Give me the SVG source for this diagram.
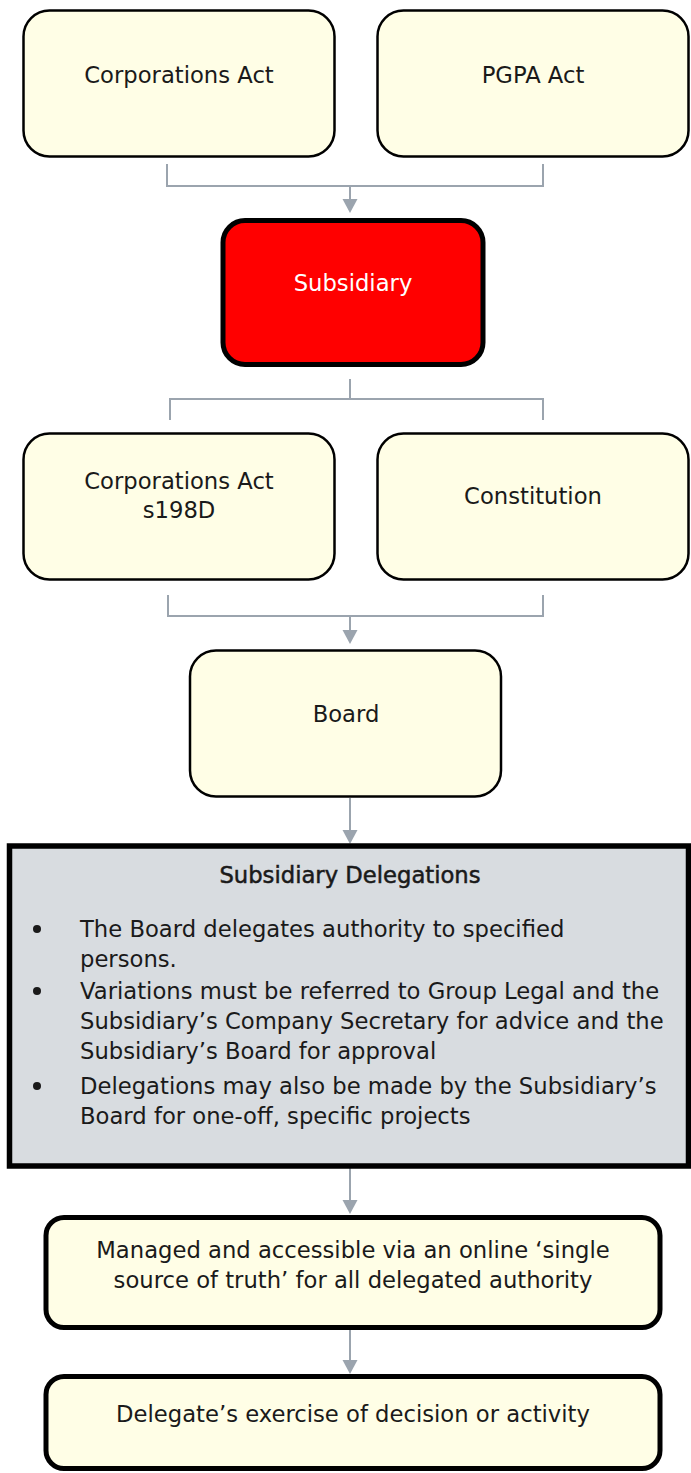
<svg xmlns="http://www.w3.org/2000/svg" width="691" height="1473" viewBox="0 0 691 1473">
<style>
.box{fill:#fffee6;stroke:#000;stroke-width:2.5}
.thick{fill:#fffee6;stroke:#000;stroke-width:5}
.t{font-family:"DejaVu Sans","Liberation Sans",sans-serif;font-size:22.7px;fill:#1a1a1a}
.c{text-anchor:middle}
.conn line{stroke:#9ba4ae;stroke-width:2;fill:none}
.conn polygon{fill:#9ba4ae}
</style>
<rect width="691" height="1473" fill="#fff"/>
<g class="conn" id="connectors">
<line x1="167" y1="164" x2="167" y2="186"/>
<line x1="543" y1="164" x2="543" y2="186"/>
<line x1="166" y1="186" x2="544" y2="186"/>
<line x1="350" y1="186" x2="350" y2="200"/>
<polygon points="342.5,199 357.5,199 350,213"/>
<line x1="350" y1="379" x2="350" y2="399"/>
<line x1="169" y1="399" x2="544" y2="399"/>
<line x1="170" y1="399" x2="170" y2="420"/>
<line x1="543" y1="399" x2="543" y2="420"/>
<line x1="168" y1="595" x2="168" y2="616"/>
<line x1="543" y1="595" x2="543" y2="616"/>
<line x1="167" y1="616" x2="544" y2="616"/>
<line x1="350" y1="616" x2="350" y2="631"/>
<polygon points="342.5,630 357.5,630 350,644"/>
<line x1="350" y1="798" x2="350" y2="831"/>
<polygon points="342.5,830 357.5,830 350,844"/>
<line x1="350" y1="1168" x2="350" y2="1201"/>
<polygon points="342.5,1200 357.5,1200 350,1214"/>
<line x1="350" y1="1330" x2="350" y2="1361"/>
<polygon points="342.5,1360 357.5,1360 350,1374"/>
</g>
<g id="corporations-act">
<rect class="box" x="23.5" y="10.5" width="311" height="146" rx="26"/>
<text class="t c" x="179" y="83">Corporations Act</text>
</g>
<g id="pgpa-act">
<rect class="box" x="377.5" y="10.5" width="311" height="146" rx="26"/>
<text class="t c" x="533" y="83">PGPA Act</text>
</g>
<g id="subsidiary">
<rect x="223" y="220.5" width="260" height="144" rx="22" fill="#ff0000" stroke="#000" stroke-width="5"/>
<text class="t c" x="353" y="291" style="fill:#fff">Subsidiary</text>
</g>
<g id="corporations-act-s198d">
<rect class="box" x="23.5" y="433.5" width="311" height="146" rx="26"/>
<text class="t c" x="179" y="489">Corporations Act</text>
<text class="t c" x="179" y="518">s198D</text>
</g>
<g id="constitution">
<rect class="box" x="377.5" y="433.5" width="311" height="146" rx="26"/>
<text class="t c" x="533" y="504">Constitution</text>
</g>
<g id="board">
<rect class="box" x="190" y="650.5" width="311" height="146" rx="26"/>
<text class="t c" x="346" y="722">Board</text>
</g>
<g id="subsidiary-delegations">
<rect x="9.5" y="846" width="679" height="320" fill="#d8dce0" stroke="#000" stroke-width="5.5"/>
<text class="t c" x="350" y="883" style="stroke:#1a1a1a;stroke-width:0.5">Subsidiary Delegations</text>
<circle cx="37" cy="929" r="4" fill="#1a1a1a"/>
<circle cx="37" cy="991" r="4" fill="#1a1a1a"/>
<circle cx="37" cy="1086" r="4" fill="#1a1a1a"/>
<text class="t" x="80" y="937">The Board delegates authority to specified</text>
<text class="t" x="80" y="967">persons.</text>
<text class="t" x="80" y="999">Variations must be referred to Group Legal and the</text>
<text class="t" x="80" y="1029">Subsidiary’s Company Secretary for advice and the</text>
<text class="t" x="80" y="1059">Subsidiary’s Board for approval</text>
<text class="t" x="80" y="1094">Delegations may also be made by the Subsidiary’s</text>
<text class="t" x="80" y="1124">Board for one-off, specific projects</text>
</g>
<g id="single-source">
<rect class="thick" x="46" y="1217.5" width="614" height="110" rx="18"/>
<text class="t c" x="353" y="1258">Managed and accessible via an online ‘single</text>
<text class="t c" x="353" y="1288">source of truth’ for all delegated authority</text>
</g>
<g id="delegate-exercise">
<rect class="thick" x="46" y="1376.5" width="614" height="92" rx="18"/>
<text class="t c" x="353" y="1422">Delegate’s exercise of decision or activity</text>
</g>
</svg>
